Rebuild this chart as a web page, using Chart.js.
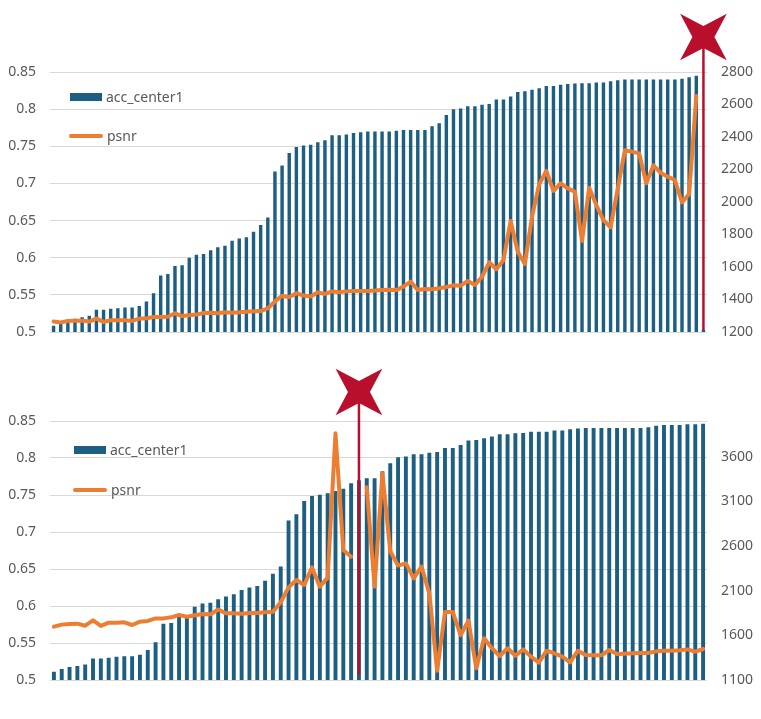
<!DOCTYPE html>
<html>
<head>
<meta charset="utf-8">
<script src="https://cdn.jsdelivr.net/npm/chart.js@4.4.1/dist/chart.umd.min.js"></script>
<style>
  body { margin: 0; background: #fff; }
  #page { position: relative; width: 761px; height: 719px; background: #fff; overflow: hidden; }
  .box { position: absolute; left: 0; width: 761px; }
  .legend-item { position: absolute; display: flex; align-items: center; height: 16px;
    font: 14px 'Noto Sans', sans-serif; color: #595959; line-height: 16px; }
  .sw-bar { width: 32px; height: 8px; background: #1d5f83; margin-right: 4px; }
  .sw-line { width: 34px; height: 4px; border-radius: 2px; background: #ed7d31; margin-right: 4px; }
</style>
</head>
<body>
<div id="page">
  <div class="box" style="top:0;height:360px"><canvas id="topChart"></canvas></div>
  <div class="box" style="top:360px;height:359px"><canvas id="bottomChart"></canvas></div>

  <div class="legend-item" style="left:70px;top:89px"><span class="sw-bar"></span>acc_center1</div>
  <div class="legend-item" style="left:69px;top:128px"><span class="sw-line"></span>psnr</div>
  <div class="legend-item" style="left:74px;top:442px"><span class="sw-bar"></span>acc_center1</div>
  <div class="legend-item" style="left:73px;top:482px"><span class="sw-line"></span>psnr</div>
</div>

<script>
// top chart values
const topAcc = [
  0.5085, 0.512, 0.5157, 0.518, 0.52, 0.522, 0.530, 0.530, 0.5314, 0.532,
  0.533, 0.533, 0.535, 0.541, 0.552, 0.576, 0.578, 0.589, 0.590, 0.600,
  0.604, 0.605, 0.610, 0.614, 0.616, 0.623, 0.626, 0.6275, 0.635, 0.644,
  0.654, 0.716, 0.724, 0.741, 0.749, 0.751, 0.752, 0.7555, 0.758, 0.765,
  0.765, 0.766, 0.768, 0.769, 0.770, 0.770, 0.770, 0.770, 0.771, 0.772,
  0.772, 0.772, 0.772, 0.777, 0.781, 0.792, 0.800, 0.801, 0.804, 0.804,
  0.806, 0.807, 0.813, 0.813, 0.817, 0.823, 0.824, 0.826, 0.828, 0.831,
  0.831, 0.833, 0.834, 0.8345, 0.835, 0.835, 0.836, 0.836, 0.8375, 0.839,
  0.840, 0.840, 0.840, 0.840, 0.840, 0.840, 0.840, 0.840, 0.841, 0.843,
  0.845, 0.503
];
const topPsnr = [
  1264, 1259, 1268, 1270, 1270, 1264, 1282, 1262, 1272, 1272,
  1272, 1268, 1282, 1284, 1292, 1292, 1294, 1315, 1298, 1303,
  1307, 1317, 1319, 1315, 1321, 1319, 1321, 1325, 1327, 1329,
  1345, 1388, 1422, 1415, 1439, 1424, 1419, 1444, 1434, 1450,
  1445, 1450, 1453, 1453, 1453, 1455, 1458, 1460, 1458, 1479,
  1510, 1458, 1465, 1463, 1469, 1477, 1487, 1485, 1514, 1489,
  1540, 1629, 1586, 1643, 1883, 1694, 1618, 1910, 2109, 2191,
  2068, 2115, 2084, 2063, 1760, 2088, 1981, 1889, 1844, 2084,
  2318, 2310, 2299, 2115, 2225, 2180, 2156, 2135, 1998, 2049,
  2652, null
];

// bottom chart values
const bottomAcc = [
  0.5113, 0.515, 0.5176, 0.519, 0.521, 0.529, 0.529, 0.530, 0.5315, 0.532,
  0.532, 0.534, 0.5405, 0.551, 0.576, 0.577, 0.587, 0.587, 0.599, 0.6035,
  0.6045, 0.609, 0.613, 0.616, 0.6215, 0.625, 0.627, 0.634, 0.6435, 0.6535,
  0.7155, 0.724, 0.742, 0.7485, 0.7505, 0.7525, 0.7555, 0.7585, 0.766, 0.770,
  0.7726, 0.7726, 0.782, 0.793, 0.801, 0.802, 0.805, 0.805, 0.807, 0.808,
  0.8135, 0.8135, 0.8176, 0.8235, 0.8244, 0.8266, 0.829, 0.832, 0.832, 0.8334,
  0.8338, 0.8356, 0.8356, 0.8356, 0.837, 0.837, 0.8388, 0.840, 0.8406, 0.8406,
  0.8406, 0.8406, 0.8406, 0.8406, 0.8406, 0.8406, 0.8415, 0.8437, 0.8446, 0.8446,
  0.8446, 0.8455, 0.8455, 0.8464
];
const bottomPsnr = [
  1697, 1720, 1727, 1731, 1708, 1768, 1705, 1742, 1742, 1746,
  1716, 1753, 1761, 1790, 1790, 1802, 1828, 1809, 1824, 1839,
  1835, 1890, 1846, 1846, 1843, 1850, 1850, 1858, 1865, 1970,
  2137, 2220, 2164, 2361, 2145, 2246, 3862, 2555, 2481, null,
  3257, 2145, 3414, 2544, 2380, 2406, 2238, 2369, 2070, 1204,
  1861, 1861, 1604, 1764, 1231, 1567, 1455, 1369, 1455, 1372,
  1443, 1361, 1294, 1428, 1399, 1361, 1298, 1428, 1380, 1376,
  1376, 1436, 1391, 1395, 1399, 1402, 1402, 1421, 1428, 1428,
  1432, 1443, 1417, 1447
];

const topCategories = topAcc.map((_, i) => String(i + 1));
const bottomCategories = bottomAcc.map((_, i) => String(i + 1));

// tick labels
const accTicks = [0.5, 0.55, 0.6, 0.65, 0.7, 0.75, 0.8, 0.85];
const topPsnrTicks = [1200, 1400, 1600, 1800, 2000, 2200, 2400, 2600, 2800];
const bottomPsnrTicks = [1100, 1600, 2100, 2600, 3100, 3600];

// where the red markers stand (category index)
const topMarkerIndex = 91;
const bottomMarkerIndex = 39;

Chart.defaults.font.family = "'Noto Sans', sans-serif";
Chart.defaults.font.size = 14;
Chart.defaults.color = '#595959';

const BAR_COLOR = '#1d5f83';
const LINE_COLOR = '#ed7d31';
const MARK_COLOR = '#b8102c';

// 4-point star, tips on the diagonals
function drawStar(ctx, cx, cy, R, r) {
  ctx.beginPath();
  for (let k = 0; k < 8; k++) {
    const ang = -3 * Math.PI / 4 + k * Math.PI / 4;
    const rad = k % 2 === 0 ? R : r;
    const px = cx + Math.cos(ang) * rad;
    const py = cy + Math.sin(ang) * rad;
    if (k === 0) ctx.moveTo(px, py); else ctx.lineTo(px, py);
  }
  ctx.closePath();
  ctx.fill();
}

const markerPlugin = {
  id: 'marker',
  afterDraw(chart, args, opts) {
    const ctx = chart.ctx;
    const area = chart.chartArea;
    const x = chart.scales.x.getPixelForValue(opts.index);
    const starY = area.top - opts.starOffset;
    ctx.save();
    ctx.strokeStyle = MARK_COLOR;
    ctx.fillStyle = MARK_COLOR;
    ctx.lineWidth = 2.5;
    ctx.beginPath();
    ctx.moveTo(x, starY);
    ctx.lineTo(x, area.bottom - opts.gap);
    ctx.stroke();
    drawStar(ctx, x, starY, 33, 11);
    ctx.restore();
  }
};

function makeChart(id, cats, acc, psnr, psnrTicks, psnrMax, barPct, pad, marker) {
  const ctx = document.getElementById(id).getContext('2d');
  return new Chart(ctx, {
    type: 'bar',
    data: {
      labels: cats,
      datasets: [
        {
          type: 'line',
          label: 'psnr',
          data: psnr,
          yAxisID: 'y1',
          borderColor: LINE_COLOR,
          borderWidth: 4,
          pointRadius: 0,
          tension: 0,
          spanGaps: false,
          borderJoinStyle: 'round',
          borderCapStyle: 'round',
          order: 1,
        },
        {
          label: 'acc_center1',
          data: acc,
          yAxisID: 'y',
          backgroundColor: BAR_COLOR,
          barPercentage: barPct,
          categoryPercentage: 1,
          order: 2,
        },
      ],
    },
    options: {
      responsive: true,
      maintainAspectRatio: false,
      animation: false,
      layout: { padding: pad },
      plugins: {
        legend: { display: false },
        tooltip: { enabled: false },
        marker: marker,
      },
      scales: {
        x: { display: false, offset: true },
        y: {
          position: 'left',
          min: 0.5,
          max: 0.85,
          afterBuildTicks: s => { s.ticks = accTicks.map(v => ({ value: v })); },
          afterFit: s => { s.width = 50; },
          ticks: { padding: 14, callback: v => String(v) },
          grid: { color: '#d9d9d9', lineWidth: 1, drawTicks: false },
          border: { display: false },
        },
        y1: {
          position: 'right',
          min: psnrTicks[0],
          max: psnrMax,
          afterBuildTicks: s => { s.ticks = psnrTicks.map(v => ({ value: v })); },
          afterFit: s => { s.width = 54; },
          ticks: { padding: 14, callback: v => String(v) },
          grid: { display: false, drawTicks: false },
          border: { display: false },
        },
      },
    },
    plugins: [markerPlugin],
  });
}

makeChart('topChart', topCategories, topAcc, topPsnr, topPsnrTicks, 2800, 0.48,
  { top: 72, bottom: 28, left: 0, right: 0 },
  { index: topMarkerIndex, starOffset: 35, gap: 2 });

makeChart('bottomChart', bottomCategories, bottomAcc, bottomPsnr, bottomPsnrTicks, 4000, 0.5,
  { top: 61, bottom: 39, left: 0, right: 0 },
  { index: bottomMarkerIndex, starOffset: 29, gap: 5 });
</script>
</body>
</html>
